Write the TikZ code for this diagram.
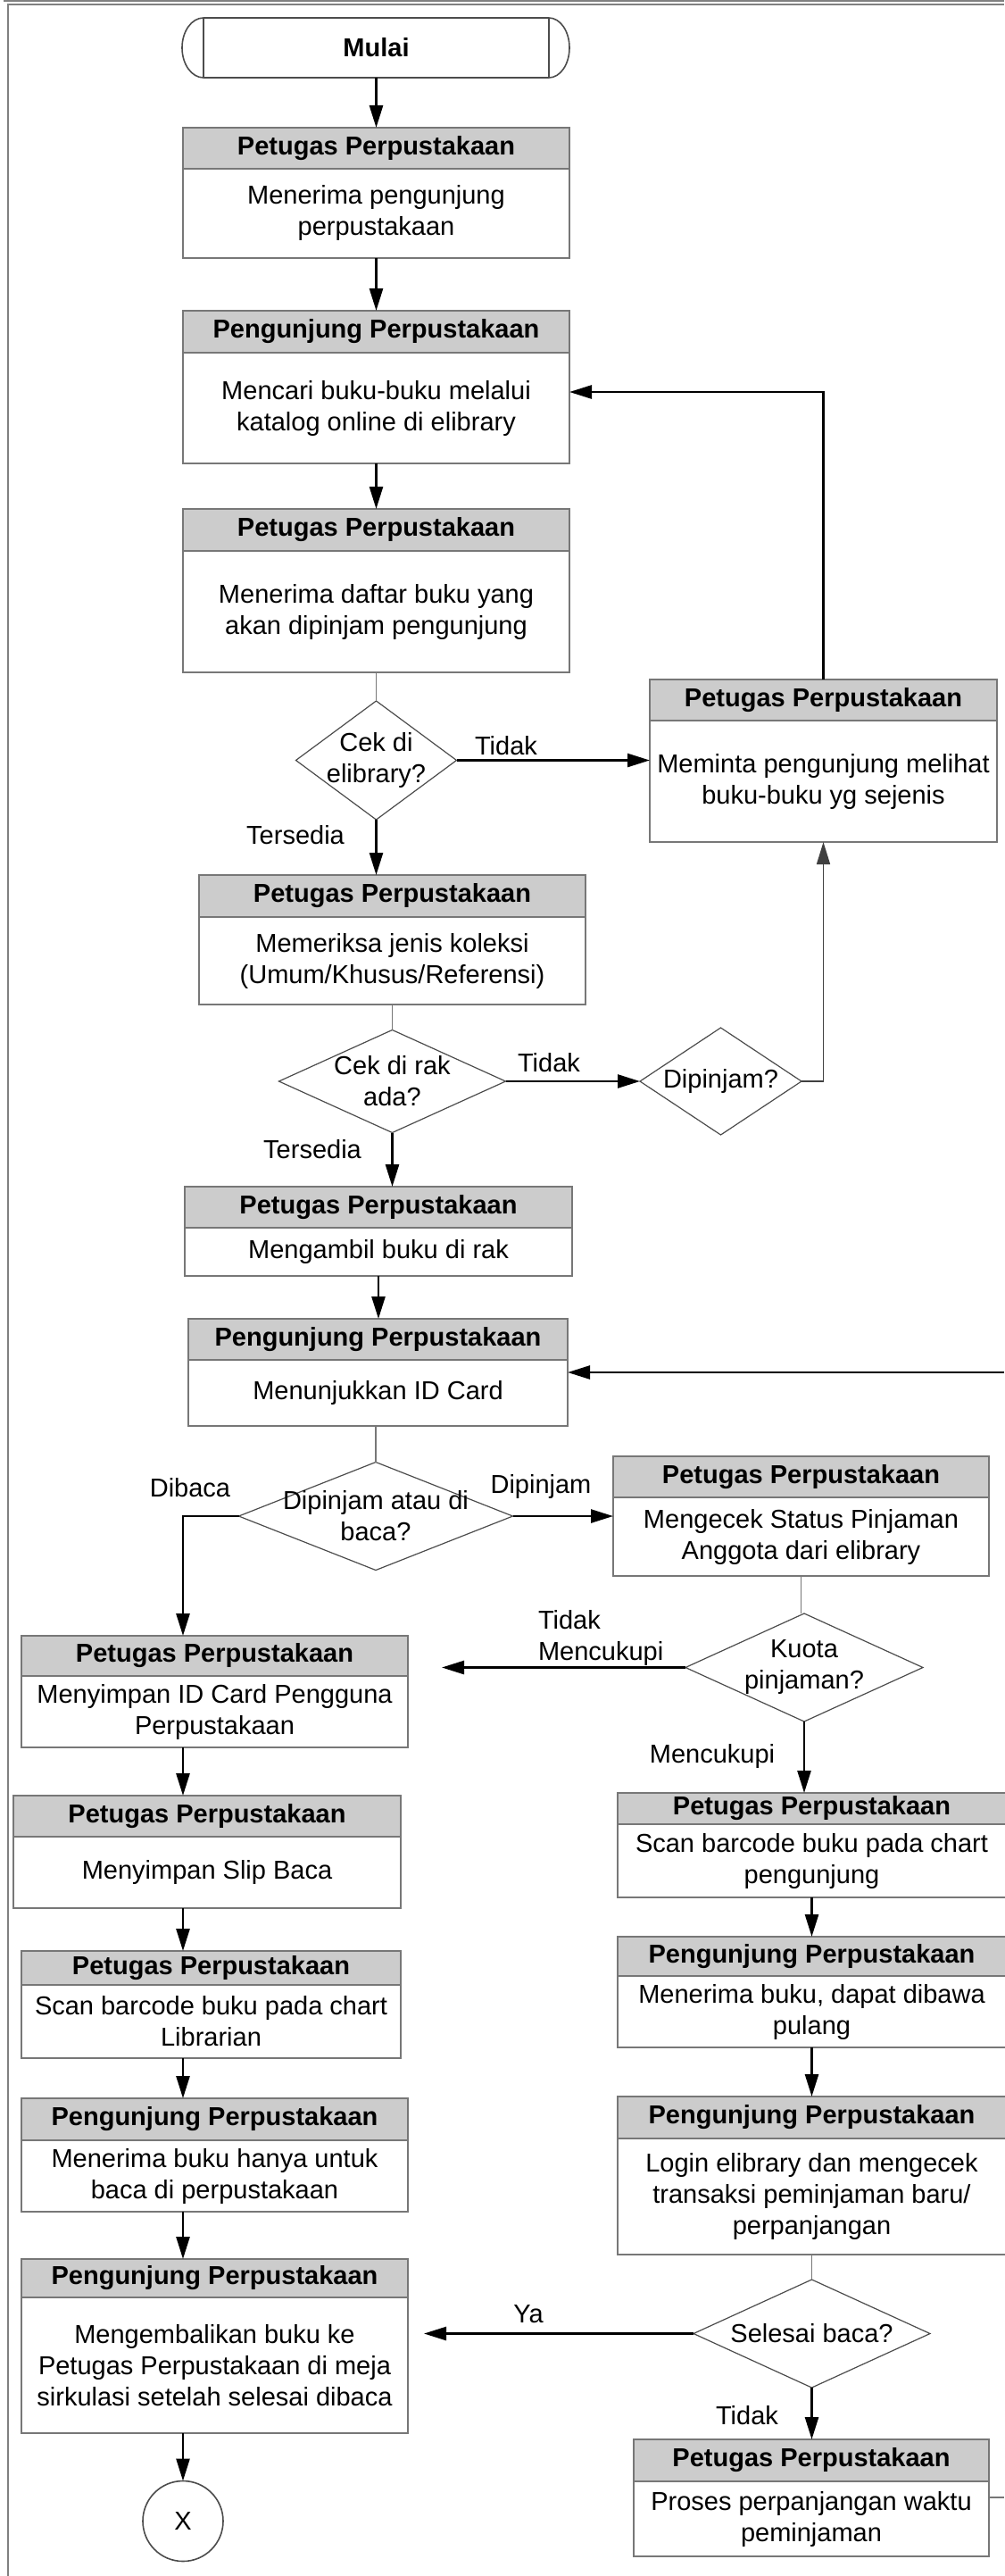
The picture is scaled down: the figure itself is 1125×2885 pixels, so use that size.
\documentclass[tikz,border=0pt]{standalone}
\usepackage{fontspec}
\setmainfont{Liberation Sans}
\usetikzlibrary{positioning,shapes.geometric,arrows.meta}
\definecolor{boxgray}{HTML}{CCCCCC}
\definecolor{linegray}{HTML}{777777}
\definecolor{framegray}{HTML}{808080}

\begin{document}
\begin{tikzpicture}[x=0.5pt, y=-0.5pt,
  every node/.style={align=center, font=\fontsize{14.5}{17.5}\selectfont, inner sep=1pt, outer sep=0pt},
  >={Triangle[length=12.5pt,width=7.5pt]},
  hdr/.style={draw=linegray, line width=1pt, fill=boxgray, anchor=north west, font=\fontsize{14.5}{17.5}\selectfont\bfseries},
  body/.style={draw=linegray, line width=1pt, fill=white},
  decision/.style={diamond, draw=black!70, line width=0.6pt, inner sep=0pt},
  flow/.style={->, line width=1.3pt},
  link/.style={draw=linegray, line width=0.7pt}]
\useasboundingbox (0,0) rectangle (1125,2885);

% Frame of the page
\draw[framegray, line width=1pt] (4,1) -- (1125,1);
\draw[framegray, line width=1pt] (8.5,2885) -- (8.5,5) -- (1125,5);

% Start
\node[minimum width=193.5pt, minimum height=33.5pt, font=\fontsize{14.5}{17.5}\selectfont\bfseries] (start) at (421.5,53.5) {Mulai};
\draw[draw=black!70, line width=0.8pt] (start.north west) -- (start.north east)
  arc[start angle=90, end angle=-90, x radius=11.5pt, y radius=16.75pt]
  -- (start.south west)
  arc[start angle=270, end angle=90, x radius=12pt, y radius=16.75pt];
\draw[draw=black!70, line width=0.6pt] (start.north west) -- (start.south west) (start.north east) -- (start.south east);

% Main column
\node[hdr, minimum width=216.5pt, minimum height=23pt] (b1h) at (205,143) {Petugas Perpustakaan};
\node[body, minimum width=216.5pt, minimum height=50pt, below=0pt of b1h] (b1) {Menerima pengunjung\\perpustakaan};
\node[hdr, minimum width=216.5pt, minimum height=23.5pt] (b2h) at (205,348) {Pengunjung Perpustakaan};
\node[body, minimum width=216.5pt, minimum height=62pt, below=0pt of b2h] (b2) {Mencari buku-buku melalui\\katalog online di elibrary};
\node[hdr, minimum width=216.5pt, minimum height=23.5pt] (b3h) at (205,570) {Petugas Perpustakaan};
\node[body, minimum width=216.5pt, minimum height=68pt, below=0pt of b3h] (b3) {Menerima daftar buku yang\\akan dipinjam pengunjung};
\node[decision, minimum width=90pt, minimum height=66.5pt] (d1) at (421.5,851.5) {};
\node (d1t) at (d1) {Cek di\\elibrary?};
\node[hdr, minimum width=194.5pt, minimum height=23pt] (b4h) at (728,761) {Petugas Perpustakaan};
\node[body, minimum width=194.5pt, minimum height=68pt, below=0pt of b4h] (b4) {Meminta pengunjung melihat\\buku-buku yg sejenis};
\node[hdr, minimum width=216.5pt, minimum height=23.5pt] (b5h) at (223,980) {Petugas Perpustakaan};
\node[body, minimum width=216.5pt, minimum height=49pt, below=0pt of b5h] (b5) {Memeriksa jenis koleksi\\(Umum/Khusus/Referensi)};
\node[decision, minimum width=127pt, minimum height=57.5pt] (d2) at (439.5,1211) {};
\node (d2t) at (d2) {Cek di rak\\ada?};
\node[decision, minimum width=90.5pt, minimum height=60pt] (d3) at (807.5,1211) {};
\node (d3t) at (d3) {Dipinjam?};
\node[hdr, minimum width=217pt, minimum height=23pt] (b6h) at (207,1329) {Petugas Perpustakaan};
\node[body, minimum width=217pt, minimum height=27pt, below=0pt of b6h] (b6) {Mengambil buku di rak};
\node[hdr, minimum width=212.5pt, minimum height=23pt] (b7h) at (211,1477) {Pengunjung Perpustakaan};
\node[body, minimum width=212.5pt, minimum height=37pt, below=0pt of b7h] (b7) {Menunjukkan ID Card};
\node[decision, minimum width=153.5pt, minimum height=60.5pt] (d4) at (421,1698) {};
\node (d4t) at (d4) {Dipinjam atau di\\baca?};

% Borrowing branch (right)
\node[hdr, minimum width=210.5pt, minimum height=23pt] (b8h) at (687,1631) {Petugas Perpustakaan};
\node[body, minimum width=210.5pt, minimum height=44pt, below=0pt of b8h] (b8) {Mengecek Status Pinjaman\\Anggota dari elibrary};
\node[decision, minimum width=133pt, minimum height=60.5pt] (d5) at (901,1867.5) {};
\node (d5t) at (d5) {Kuota\\pinjaman?};
\node[hdr, minimum width=217.5pt, minimum height=17.5pt] (r1h) at (692,2008) {Petugas Perpustakaan};
\node[body, minimum width=217.5pt, minimum height=41pt, below=0pt of r1h] (r1) {Scan barcode buku pada chart\\pengunjung};
\node[hdr, minimum width=217.5pt, minimum height=22pt] (r2h) at (692,2169) {Pengunjung Perpustakaan};
\node[body, minimum width=217.5pt, minimum height=40pt, below=0pt of r2h] (r2) {Menerima buku, dapat dibawa\\pulang};
\node[hdr, minimum width=217.5pt, minimum height=23.5pt] (r3h) at (692,2348) {Pengunjung Perpustakaan};
\node[body, minimum width=217.5pt, minimum height=65pt, below=0pt of r3h] (r3) {Login elibrary dan mengecek\\transaksi peminjaman baru/\\perpanjangan};
\node[decision, minimum width=132.5pt, minimum height=60.5pt] (d6) at (909.5,2613.5) {};
\node (d6t) at (d6) {Selesai baca?};
\node[hdr, minimum width=199pt, minimum height=23.5pt] (r4h) at (710,2732) {Petugas Perpustakaan};
\node[body, minimum width=199pt, minimum height=42pt, below=0pt of r4h] (r4) {Proses perpanjangan waktu\\peminjaman};

% Reading branch (left)
\node[hdr, minimum width=216.5pt, minimum height=22.5pt] (b9h) at (24,1832) {Petugas Perpustakaan};
\node[body, minimum width=216.5pt, minimum height=40pt, below=0pt of b9h] (b9) {Menyimpan ID Card Pengguna\\Perpustakaan};
\node[hdr, minimum width=217pt, minimum height=23pt] (b10h) at (15,2011) {Petugas Perpustakaan};
\node[body, minimum width=217pt, minimum height=40pt, below=0pt of b10h] (b10) {Menyimpan Slip Baca};
\node[hdr, minimum width=212.5pt, minimum height=19pt] (b11h) at (24,2185) {Petugas Perpustakaan};
\node[body, minimum width=212.5pt, minimum height=41pt, below=0pt of b11h] (b11) {Scan barcode buku pada chart\\Librarian};
\node[hdr, minimum width=216.5pt, minimum height=23.5pt] (b12h) at (24,2350) {Pengunjung Perpustakaan};
\node[body, minimum width=216.5pt, minimum height=40pt, below=0pt of b12h] (b12) {Menerima buku hanya untuk\\baca di perpustakaan};
\node[hdr, minimum width=216.5pt, minimum height=21.5pt] (b13h) at (24,2530) {Pengunjung Perpustakaan};
\node[body, minimum width=216.5pt, minimum height=76pt, below=0pt of b13h] (b13) {Mengembalikan buku ke\\Petugas Perpustakaan di meja\\sirkulasi setelah selesai dibaca};
\node[circle, draw=black!70, line width=0.8pt, minimum size=45pt, inner sep=0pt] (stop) at (205,2823.5) {X};

% Labels
\node (l1) at (567,835) {Tidak};
\node (l2) at (331,935) {Tersedia};
\node (l3) at (615,1190) {Tidak};
\node (l4) at (350,1287) {Tersedia};
\node (l5) at (213,1666) {Dibaca};
\node (l6) at (606,1665) {Dipinjam};
\node[anchor=west, align=left] (l7) at (601,1834.5) {Tidak\\Mencukupi};
\node (l8) at (798,1967) {Mencukupi};
\node (l9) at (592,2592) {Ya};
\node (l10) at (837,2705) {Tidak};

\coordinate (lcol) at (205,0);
\coordinate (edge1) at (1125,1537);
\coordinate (edge2) at (1125,2797);

% Connectors
\draw[flow] (start.south) -- (b1h.north);
\draw[flow] (b1.south) -- (b2h.north);
\draw[flow] (b2.south) -- (b3h.north);
\draw[link] (b3.south) -- (d1.north);
\draw[flow] (d1.east) -- (d1.east -| b4.west);
\draw[flow] (b4h.north) |- ([yshift=9pt]b2.east);
\draw[flow] (d1.south) -- (d1.south |- b5h.north);
\draw[link] (b5.south) -- (d2.north);
\draw[flow] (d2.east) -- (d3.west);
\draw[->, draw=black!75, line width=0.8pt] (d3.east) -| (b4.south);
\draw[flow] (d2.south) -- (d2.south |- b6h.north);
\draw[flow] (b6.south) -- (b6.south |- b7h.north);
\draw[flow] (edge1) -- (edge1 -| b7.east);
\draw[link] (d4.north |- b7.south) -- (d4.north);
\draw[flow] (d4.west) -| (lcol |- b9h.north);
\draw[flow] (d4.east) -- (d4.east -| b8.west);
\draw[link] (b8.south) -- (b8.south |- d5.north);
\draw[flow, shorten >=19pt] (d5.west) -- (d5.west -| b9.east);
\draw[flow] (d5.south) -- (d5.south |- r1h.north);
\draw[flow] (lcol |- b9.south) -- (lcol |- b10h.north);
\draw[flow] (lcol |- b10.south) -- (lcol |- b11h.north);
\draw[flow] (lcol |- b11.south) -- (lcol |- b12h.north);
\draw[flow] (lcol |- b12.south) -- (lcol |- b13h.north);
\draw[flow] (lcol |- b13.south) -- (stop.north);
\draw[flow] (r1.south) -- (r1.south |- r2h.north);
\draw[flow] (r2.south) -- (r2.south |- r3h.north);
\draw[link] (r3.south) -- (d6.north);
\draw[flow, shorten >=9pt] (d6.west) -- (d6.west -| b13.east);
\draw[flow] (d6.south) -- (d6.south |- r4h.north);
\draw[link] (edge2 -| r4.east) -- (edge2);
\end{tikzpicture}
\end{document}
